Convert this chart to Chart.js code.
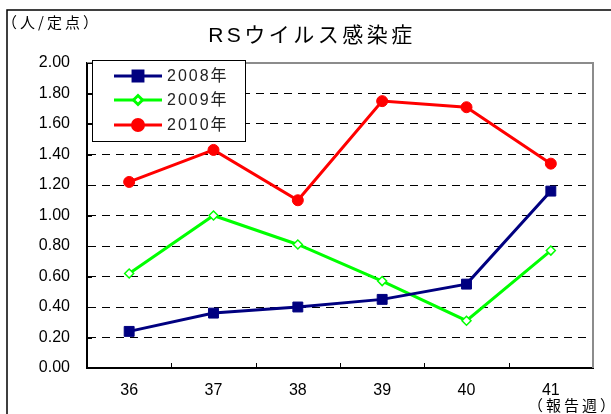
<!DOCTYPE html>
<html>
<head>
<meta charset="utf-8">
<script src="https://cdn.jsdelivr.net/npm/chart.js@4"></script>
<style>
  html, body { margin: 0; padding: 0; background: #fff; }
  #wrap { width: 611px; height: 414px; }
</style>
</head>
<body>
<div id="wrap"><canvas id="chart" width="611" height="414"></canvas></div>
<script>
// 報告週
const weeks = ["36", "37", "38", "39", "40", "41"];
// 定点当たり報告数
const y2008 = [0.24, 0.36, 0.40, 0.45, 0.55, 1.16];
const y2009 = [0.62, 1.00, 0.81, 0.57, 0.31, 0.77];
const y2010 = [1.22, 1.43, 1.10, 1.75, 1.71, 1.34];
const seriesNames = ["2008年", "2009年", "2010年"];

const FONT = '"Liberation Sans", "Noto Sans CJK JP", sans-serif';
const JFONT = '"Noto Sans CJK JP", sans-serif';

const decor = {
    id: "decor",
    beforeDatasetsDraw(chart) {
        const ctx = chart.ctx;
        const a = chart.chartArea;
        const y = chart.scales.y;
        ctx.save();
        // top / right frame of plot area
        ctx.strokeStyle = "#8c8c8c";
        ctx.lineWidth = 2;
        ctx.beginPath();
        ctx.moveTo(a.left, a.top);
        ctx.lineTo(a.right, a.top);
        ctx.lineTo(a.right, a.bottom);
        ctx.stroke();
        // inside ticks
        ctx.strokeStyle = "#000";
        ctx.lineWidth = 1;
        ctx.beginPath();
        y.ticks.forEach(t => {
            const py = Math.round(y.getPixelForValue(t.value)) + 0.5;
            ctx.moveTo(a.left, py);
            ctx.lineTo(a.left + 5, py);
        });
        const step = (a.right - a.left) / weeks.length;
        for (let i = 1; i < weeks.length; i++) {
            const px = Math.round(a.left + i * step) + 0.5;
            ctx.moveTo(px, a.bottom);
            ctx.lineTo(px, a.bottom - 5);
        }
        ctx.stroke();
        ctx.restore();
    },
    afterDraw(chart) {
        const ctx = chart.ctx;
        ctx.save();
        // outer frame
        ctx.strokeStyle = "#000";
        ctx.lineWidth = 1.5;
        ctx.beginPath();
        ctx.moveTo(7, 414);
        ctx.lineTo(7, 10);
        ctx.lineTo(611, 10);
        ctx.stroke();

        // title
        ctx.fillStyle = "#000";
        ctx.textBaseline = "middle";
        ctx.textAlign = "center";
        ctx.letterSpacing = "3.5px";
        ctx.font = "21px " + FONT;
        ctx.fillText("RSウイルス感染症", 312, 36);

        ctx.textAlign = "left";
        ctx.letterSpacing = "3px";
        ctx.font = "15px " + JFONT;
        ctx.fillText("（人/定点）", 2, 22);
        ctx.fillText("（報告週）", 528, 405);

        // legend
        const lx = 92, ly = 60, lw = 153, lh = 81;
        ctx.fillStyle = "#fff";
        ctx.fillRect(lx, ly, lw, lh);
        ctx.strokeStyle = "#000";
        ctx.lineWidth = 1;
        ctx.strokeRect(lx + 0.5, ly + 0.5, lw, lh);
        const rows = [76, 100, 125];
        chart.data.datasets.forEach((ds, i) => {
            const ry = rows[i];
            ctx.strokeStyle = ds.borderColor;
            ctx.lineWidth = ds.borderWidth;
            ctx.beginPath();
            ctx.moveTo(114, ry);
            ctx.lineTo(162, ry);
            ctx.stroke();
            ctx.fillStyle = ds.pointBackgroundColor;
            ctx.strokeStyle = ds.borderColor;
            Chart.helpers.drawPoint(ctx, {
                pointStyle: ds.pointStyle,
                radius: ds.pointRadius,
                rotation: 0,
                borderWidth: ds.pointBorderWidth
            }, 138, ry);
            ctx.fillStyle = "#222";
            ctx.font = "16px " + FONT;
            ctx.letterSpacing = "2px";
            ctx.textAlign = "left";
            ctx.textBaseline = "middle";
            ctx.fillText(ds.label, 167, ry + 1);
        });
        ctx.restore();
    }
};

const isEdge = v => Math.abs(v) < 1e-6 || Math.abs(v - 2) < 1e-6;

new Chart(document.getElementById("chart"), {
    type: "line",
    data: {
        labels: weeks,
        datasets: [
            {
                label: seriesNames[0],
                data: y2008,
                borderColor: "#000080",
                borderWidth: 3,
                pointStyle: "rect",
                pointRadius: 7,
                pointBackgroundColor: "#000080",
                pointBorderColor: "#000080",
                pointBorderWidth: 1
            },
            {
                label: seriesNames[1],
                data: y2009,
                borderColor: "#00ff00",
                borderWidth: 3,
                pointStyle: "rectRot",
                pointRadius: 4.5,
                pointBackgroundColor: "#ffffff",
                pointBorderColor: "#00ff00",
                pointBorderWidth: 1.5
            },
            {
                label: seriesNames[2],
                data: y2010,
                borderColor: "#ff0000",
                borderWidth: 3,
                pointStyle: "circle",
                pointRadius: 5.5,
                pointBackgroundColor: "#ff0000",
                pointBorderColor: "#ff0000",
                pointBorderWidth: 1
            }
        ]
    },
    options: {
        responsive: false,
        animation: false,
        devicePixelRatio: 1,
        layout: { padding: { left: 0, top: 63, right: 18, bottom: 0 } },
        plugins: { legend: { display: false }, tooltip: { enabled: false }, title: { display: false } },
        elements: { line: { tension: 0 } },
        scales: {
            x: {
                offset: true,
                grid: { display: false },
                border: { display: true, color: "#000", width: 2 },
                ticks: { color: "#000", font: { family: FONT, size: 16 }, padding: 5, maxRotation: 0 },
                afterFit: s => { s.height = 46; }
            },
            y: {
                min: 0,
                max: 2,
                ticks: {
                    stepSize: 0.2,
                    color: "#000",
                    font: { family: FONT, size: 16 },
                    padding: 17,
                    callback: v => v.toFixed(2)
                },
                grid: {
                    drawTicks: false,
                    lineWidth: 1,
                    color: c => isEdge(c.tick.value) ? "rgba(0,0,0,0)" : "#000"
                },
                border: { display: true, color: "#000", width: 2, dash: [8, 6] },
                afterFit: s => { s.width = 87; }
            }
        }
    },
    plugins: [decor]
});
</script>
</body>
</html>
